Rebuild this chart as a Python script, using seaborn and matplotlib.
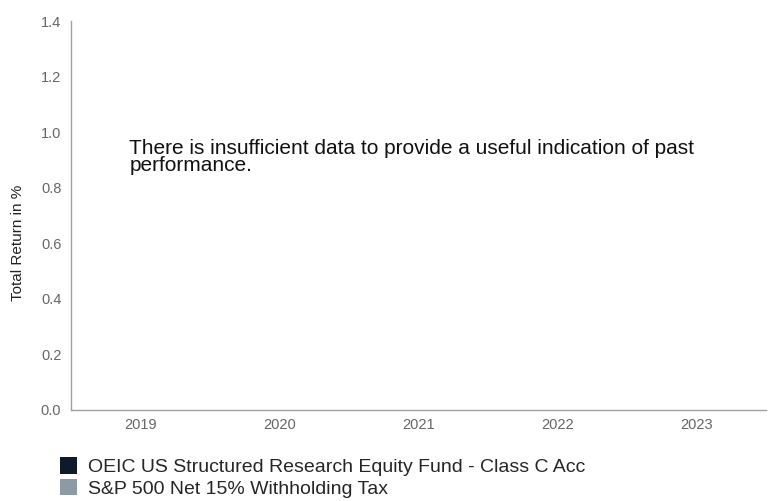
import numpy as np
import pandas as pd
import matplotlib
matplotlib.use("Agg")
import matplotlib.pyplot as plt
from matplotlib.patches import Patch
import seaborn as sns

# data: no performance figures available yet
years = ["2019", "2020", "2021", "2022", "2023"]
series = ["OEIC US Structured Research Equity Fund - Class C Acc",
          "S&P 500 Net 15% Withholding Tax"]
fund_returns = [np.nan, np.nan, np.nan, np.nan, np.nan]
index_returns = [np.nan, np.nan, np.nan, np.nan, np.nan]
colors = ["#0e1a2b", "#8e99a6"]

df = pd.DataFrame({
    "Year": years * 2,
    "Series": [series[0]] * 5 + [series[1]] * 5,
    "Return": fund_returns + index_returns,
})

sns.set_style("white")
plt.rcParams["font.family"] = ["Liberation Sans", "DejaVu Sans"]

fig = plt.figure(figsize=(7.68, 5.01), dpi=100)
ax = fig.add_axes([0.0925, 0.182, 0.905, 0.776])

try:
    sns.barplot(data=df, x="Year", y="Return", hue="Series", order=years,
                hue_order=series, palette=colors, legend=False, ax=ax)
except Exception:
    pass

ax.set_xticks(range(len(years)))
ax.set_xticklabels(years)
ax.set_xlim(-0.5, 4.5)
ax.set_ylim(0, 1.4)
ax.set_yticks(np.arange(0, 1.41, 0.2))
ax.set_yticklabels([f"{v:.1f}" for v in np.arange(0, 1.41, 0.2)])
ax.tick_params(axis="both", colors="#666666", labelsize=10.5, length=0)
ax.tick_params(axis="y", pad=7)
ax.tick_params(axis="x", pad=6)
ax.set_xlabel("")
ax.set_ylabel("Total Return in %", fontsize=11, color="#222222")
ax.yaxis.set_label_coords(-0.066, 0.43)

for s in ["top", "right"]:
    ax.spines[s].set_visible(False)
for s in ["left", "bottom"]:
    ax.spines[s].set_color("#a0a0a0")
    ax.spines[s].set_linewidth(1)

ax.text(0.084, 0.697, "There is insufficient data to provide a useful indication of past\nperformance.",
        transform=ax.transAxes, fontsize=15, color="#111111", va="top", linespacing=0.9)

handles = [Patch(facecolor=c, edgecolor="none") for c in colors]
fig.legend(handles, series, loc="upper left", bbox_to_anchor=(0.078, 0.087),
           frameon=False, fontsize=14, handlelength=0.9, handleheight=0.9,
           handletextpad=0.55, labelspacing=0.15, borderpad=0, borderaxespad=0)

fig.savefig("out.png", dpi=100)
